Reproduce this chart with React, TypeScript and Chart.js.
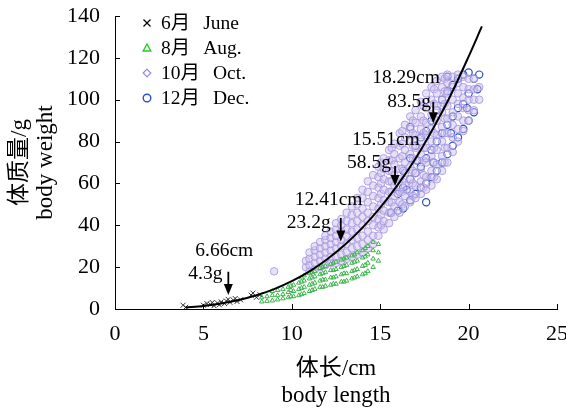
import React, { useEffect, useRef } from "react";
import { Chart, registerables } from "chart.js";
Chart.register(...registerables);

const SERIF = '"Liberation Serif", "Times New Roman", "Noto Sans CJK SC", serif';

const X_TICKS = [0, 5, 10, 15, 20, 25];
const Y_TICKS = [0, 20, 40, 60, 80, 100, 120, 140];
const X_TITLE = ["体长/cm", "body length"];
const Y_TITLE = ["体质量/g", "body weight"];

const LEGEND_CN = ["6月", "8月", "10月", "12月"];
const LEGEND_EN = ["June", "Aug.", "Oct.", "Dec."];

// June samples [length, weight]
const JUNE: number[][] = [
  [3.85, 1.8], [4.0, 0.8], [5.0, 1.8], [5.2, 2.6], [5.4, 2.2], [5.5, 3.1], [5.6, 1.6],
  [5.8, 2.8], [5.9, 2.0], [6.0, 3.4], [6.2, 2.6], [6.3, 3.8], [6.4, 4.6], [6.5, 3.2],
  [6.7, 4.2], [6.8, 5.0], [6.9, 3.6], [7.1, 4.4], [7.7, 6.6], [7.8, 7.6], [8.0, 5.6], [8.2, 6.8],
];

// August rows: [length, weights...]
const AUG_ROWS: number[][] = [
  [8.3, 3.5, 5.5],
  [8.6, 3.8, 6],
  [8.9, 4, 6.5, 8.5],
  [9.2, 4.5, 6.5, 9],
  [9.5, 5, 7, 9.5],
  [9.8, 5.5, 8, 10.5],
  [9.95, 6, 9, 11],
  [10.1, 6, 8.5, 11.5],
  [10.4, 6.5, 9.5, 12.5],
  [10.55, 7, 10, 13, 15],
  [10.7, 7.5, 10.5, 13.5, 16],
  [11.0, 8.5, 11.5, 14.5, 17],
  [11.15, 9, 12, 15, 17.5],
  [11.3, 9.5, 12.5, 15.5, 18],
  [11.6, 10.5, 13.5, 16.5, 19.5],
  [11.75, 10.5, 14, 17, 20],
  [11.9, 11, 14, 17.5, 20.5],
  [12.2, 11.5, 15, 18.5, 21.5],
  [12.35, 12, 15, 18.5, 22],
  [12.5, 12, 15.5, 19, 22.5],
  [12.8, 13, 16.5, 20, 23.5],
  [12.95, 13, 17, 20.5, 24],
  [13.1, 13.5, 17, 21, 24.5],
  [13.4, 14.5, 18, 22, 25.5],
  [13.55, 15, 18.5, 22.5, 26],
  [13.7, 15.5, 19, 23, 27],
  [14.0, 16.5, 20.5, 24.5, 28],
  [14.15, 17, 21, 25, 29],
  [14.3, 18, 22, 26, 30],
  [14.6, 20, 24, 28, 32],
  [14.9, 23, 27, 31],
];

// October rows: [length, weights...]
const OCT_ROWS: number[][] = [
  [9.0, 18],
  [10.8, 20, 23],
  [11.0, 18, 21, 24, 27],
  [11.3, 19, 22, 25, 28, 30],
  [11.6, 20, 23, 26, 29, 32],
  [11.9, 21, 24, 27, 30, 33, 35],
  [12.2, 22, 25, 28, 31, 34, 37],
  [12.5, 22, 25, 29, 32, 35, 38, 41],
  [12.8, 23, 26, 30, 33, 37, 40, 43],
  [13.1, 24, 27, 31, 35, 38, 42, 46],
  [13.4, 25, 29, 33, 37, 41, 45, 49],
  [13.7, 26, 30, 34, 38, 42, 46, 50, 53],
  [14.0, 27, 31, 35, 40, 44, 48, 53, 57],
  [14.3, 29, 33, 37, 42, 46, 51, 56, 61],
  [14.6, 31, 35, 40, 44, 49, 54, 59, 64],
  [14.9, 35, 39, 43, 48, 53, 58, 63, 68],
  [15.05, 40, 45, 50, 55, 60, 65, 70],
  [15.2, 38, 42, 47, 52, 57, 62, 67, 72],
  [15.5, 41, 46, 51, 56, 61, 66, 71, 76],
  [15.65, 46, 51, 56, 61, 66, 71, 77],
  [15.8, 44, 49, 54, 59, 64, 69, 74, 79],
  [16.1, 46, 51, 56, 62, 67, 72, 78, 84],
  [16.25, 50, 56, 61, 67, 73, 79, 85],
  [16.4, 49, 54, 59, 65, 70, 76, 82, 88],
  [16.7, 51, 56, 62, 68, 74, 80, 86, 92],
  [16.85, 54, 60, 66, 72, 78, 84, 90],
  [17.0, 53, 59, 65, 71, 77, 83, 89, 95],
  [17.3, 55, 61, 67, 74, 80, 86, 92, 99],
  [17.45, 58, 64, 71, 77, 84, 90, 97],
  [17.6, 57, 63, 70, 77, 83, 89, 96, 103],
  [17.9, 59, 66, 73, 80, 86, 93, 100, 106],
  [18.05, 63, 70, 77, 84, 91, 98, 105],
  [18.2, 62, 69, 76, 83, 90, 97, 103, 109],
  [18.5, 66, 73, 80, 87, 94, 100, 106, 111],
  [18.65, 70, 77, 84, 91, 98, 104, 110],
  [18.8, 70, 77, 84, 91, 97, 103, 108, 112],
  [19.1, 75, 82, 88, 94, 100, 106, 111],
  [19.4, 80, 86, 92, 98, 103, 108, 112],
  [19.7, 85, 90, 96, 101, 106, 111],
  [20.0, 90, 95, 100, 105, 110],
  [20.3, 95, 100, 105, 110],
  [20.6, 100, 106],
];

// December rows: [length, weights...]
const DEC_ROWS: number[][] = [
  [15.6, 46],
  [16.0, 47, 55],
  [16.3, 48, 58, 66],
  [16.5, 57],
  [16.7, 52, 62, 72, 87],
  [17.0, 55, 65, 78],
  [17.1, 71],
  [17.3, 58, 68, 82],
  [17.6, 51, 60, 72, 85],
  [17.9, 63, 76, 90],
  [18.0, 70],
  [18.2, 66, 80, 95],
  [18.5, 70, 84, 100],
  [18.8, 74, 88, 104, 111],
  [19.0, 84],
  [19.1, 78, 92, 107],
  [19.4, 82, 96, 110],
  [19.7, 86, 98, 112],
  [19.9, 96],
  [20.0, 90, 103, 113],
  [20.3, 94, 110],
  [20.5, 105],
  [20.6, 112],
];

// fitted length-weight curve
const FIT_CURVE: number[][] = [
  [4, 0.72], [5, 1.47], [6, 2.62], [7, 4.28], [8, 6.54], [9, 9.52], [10, 13.3], [11, 18.0],
  [12, 23.8], [13, 30.7], [14, 38.9], [15, 48.4], [16, 59.4], [17, 71.9], [18, 86.4],
  [19, 102.4], [20, 120.6], [20.75, 135],
];

// arrows: x, arrow top, arrow tip (data units) and their labels
const ARROW_X = [6.41, 12.77, 15.84, 18.0];
const ARROW_TOP = [17.8, 43.5, 68.3, 99];
const ARROW_TIP = [6.7, 32.2, 58.8, 88.7];
const ARROW_LEN = ["6.66cm", "12.41cm", "15.51cm", "18.29cm"];
const ARROW_WT = ["4.3g", "23.2g", "58.5g", "83.5g"];

// label offsets in px relative to arrow top
const LEN_OFF = [[-33, -16], [-46, -13], [-43, -21], [-61, -19]];
const WT_OFF = [[-40, 7], [-54, 10], [-48, 2], [-46, 5]];

function rowsToPoints(rows: number[][]) {
  const pts: { x: number; y: number }[] = [];
  for (const r of rows) {
    for (let i = 1; i < r.length; i++) pts.push({ x: r[0], y: r[i] });
  }
  return pts;
}

const COL_JUNE = "#333333";
const COL_AUG = "#3db44c";
const COL_OCT = "rgba(168,150,224,0.85)";
const COL_OCT_FILL = "rgba(206,196,238,0.5)";
const COL_DEC = "#2a50c4";

const decorPlugin = {
  id: "decor",
  afterDatasetsDraw(chart: any) {
    const ctx = chart.ctx;
    const xs = chart.scales.x;
    const ys = chart.scales.y;
    const area = chart.chartArea;
    ctx.save();
    // inward ticks
    ctx.strokeStyle = "#000";
    ctx.lineWidth = 1;
    for (const v of X_TICKS) {
      const px = Math.round(xs.getPixelForValue(v)) + 0.5;
      ctx.beginPath();
      ctx.moveTo(px, area.bottom);
      ctx.lineTo(px, area.bottom - 5);
      ctx.stroke();
    }
    for (const v of Y_TICKS) {
      const py = Math.round(ys.getPixelForValue(v)) + 0.5;
      ctx.beginPath();
      ctx.moveTo(area.left, py);
      ctx.lineTo(area.left + 5, py);
      ctx.stroke();
    }
    // arrows and labels
    ctx.fillStyle = "#000";
    ctx.font = `19.5px ${SERIF}`;
    ctx.textBaseline = "alphabetic";
    ctx.textAlign = "left";
    for (let i = 0; i < ARROW_X.length; i++) {
      const ax = xs.getPixelForValue(ARROW_X[i]);
      const at = ys.getPixelForValue(ARROW_TOP[i]);
      const ab = ys.getPixelForValue(ARROW_TIP[i]);
      ctx.lineWidth = 1.8;
      ctx.beginPath();
      ctx.moveTo(ax, at);
      ctx.lineTo(ax, ab - 10);
      ctx.stroke();
      ctx.beginPath();
      ctx.moveTo(ax - 4.5, ab - 11);
      ctx.lineTo(ax + 4.5, ab - 11);
      ctx.lineTo(ax, ab);
      ctx.closePath();
      ctx.fill();
      ctx.fillText(ARROW_LEN[i], ax + LEN_OFF[i][0], at + LEN_OFF[i][1]);
      ctx.fillText(ARROW_WT[i], ax + WT_OFF[i][0], at + WT_OFF[i][1]);
    }
    // legend
    ctx.font = `19.5px ${SERIF}`;
    ctx.textBaseline = "middle";
    for (let i = 0; i < LEGEND_CN.length; i++) {
      const cy = 23 + i * 25;
      const mx = 147;
      ctx.lineWidth = 1.2;
      if (i === 0) {
        ctx.strokeStyle = "#000";
        ctx.beginPath();
        ctx.moveTo(mx - 3.5, cy - 3.5);
        ctx.lineTo(mx + 3.5, cy + 3.5);
        ctx.moveTo(mx + 3.5, cy - 3.5);
        ctx.lineTo(mx - 3.5, cy + 3.5);
        ctx.stroke();
      } else if (i === 1) {
        ctx.strokeStyle = "#22d022";
        ctx.lineWidth = 1.4;
        ctx.beginPath();
        ctx.moveTo(mx, cy - 4);
        ctx.lineTo(mx + 3.8, cy + 3);
        ctx.lineTo(mx - 3.8, cy + 3);
        ctx.closePath();
        ctx.stroke();
      } else if (i === 2) {
        ctx.strokeStyle = "#9a86e6";
        ctx.beginPath();
        ctx.moveTo(mx, cy - 3.8);
        ctx.lineTo(mx + 3.8, cy);
        ctx.lineTo(mx, cy + 3.8);
        ctx.lineTo(mx - 3.8, cy);
        ctx.closePath();
        ctx.stroke();
      } else {
        ctx.strokeStyle = "#2a4fd0";
        ctx.lineWidth = 1.4;
        ctx.beginPath();
        ctx.arc(mx, cy, 3.8, 0, Math.PI * 2);
        ctx.stroke();
      }
      ctx.fillStyle = "#000";
      const tx = 161;
      ctx.fillText(LEGEND_CN[i], tx, cy + 1);
      const w = ctx.measureText(LEGEND_CN[i]).width;
      ctx.fillText(LEGEND_EN[i], tx + w + 13, cy + 1);
    }
    ctx.restore();
  },
};

export default function App() {
  const ref = useRef<HTMLCanvasElement | null>(null);
  useEffect(() => {
    document.body.style.margin = "0";
    const canvas = ref.current;
    if (!canvas) return;
    const tickFont = { family: SERIF, size: 22 };
    const titleFont = { family: SERIF, size: 23, lineHeight: 1.17 };
    const chart = new Chart(canvas, {
      type: "scatter",
      data: {
        datasets: [
          {
            label: "fit",
            data: FIT_CURVE.map((p) => ({ x: p[0], y: p[1] })),
            showLine: true,
            borderColor: "#000",
            borderWidth: 2,
            pointRadius: 0,
            cubicInterpolationMode: "monotone",
            order: 0,
          } as any,
          {
            label: "June",
            data: JUNE.map((p) => ({ x: p[0], y: p[1] })),
            pointStyle: "crossRot",
            pointRadius: 3.5,
            borderColor: COL_JUNE,
            borderWidth: 1,
            order: 1,
          },
          {
            label: "Aug.",
            data: rowsToPoints(AUG_ROWS),
            pointStyle: "triangle",
            pointRadius: 2.6,
            borderColor: COL_AUG,
            backgroundColor: "rgba(255,255,255,0)",
            borderWidth: 1,
            order: 2,
          },
          {
            label: "Oct.",
            data: rowsToPoints(OCT_ROWS),
            pointStyle: "circle",
            pointRadius: 3.8,
            borderColor: COL_OCT,
            backgroundColor: COL_OCT_FILL,
            borderWidth: 1,
            order: 3,
          },
          {
            label: "Dec.",
            data: rowsToPoints(DEC_ROWS),
            pointStyle: "circle",
            pointRadius: 3.6,
            borderColor: COL_DEC,
            backgroundColor: "rgba(255,255,255,0)",
            borderWidth: 1.2,
            order: 4,
          },
        ],
      },
      options: {
        animation: false,
        responsive: false,
        events: [],
        layout: { padding: { top: 16, right: 9, left: 0, bottom: 0 } },
        plugins: { legend: { display: false }, tooltip: { enabled: false } },
        scales: {
          x: {
            type: "linear",
            min: 0,
            max: 25,
            ticks: { stepSize: 5, font: tickFont, color: "#000", padding: 12, maxRotation: 0 },
            grid: { display: false, drawTicks: false },
            border: { display: true, color: "#000", width: 1 },
            title: { display: true, text: X_TITLE, font: titleFont, color: "#000", padding: { top: 0, bottom: 2 } },
            afterFit: (s: any) => {
              s.height = 102;
              s.paddingLeft = 0;
              s.paddingRight = 0;
            },
          },
          y: {
            type: "linear",
            min: 0,
            max: 140,
            ticks: { stepSize: 20, font: tickFont, color: "#000", padding: 15 },
            grid: { display: false, drawTicks: false },
            border: { display: true, color: "#000", width: 1 },
            title: { display: true, text: Y_TITLE, font: titleFont, color: "#000", padding: { top: 6, bottom: 0 } },
            afterFit: (s: any) => {
              s.width = 115;
              s.paddingTop = 0;
              s.paddingBottom = 0;
            },
          },
        },
      },
      plugins: [decorPlugin],
    });
    return () => chart.destroy();
  }, []);
  return (
    <canvas
      ref={ref}
      width={566}
      height={411}
      style={{ display: "block", width: 566, height: 411 }}
    />
  );
}
